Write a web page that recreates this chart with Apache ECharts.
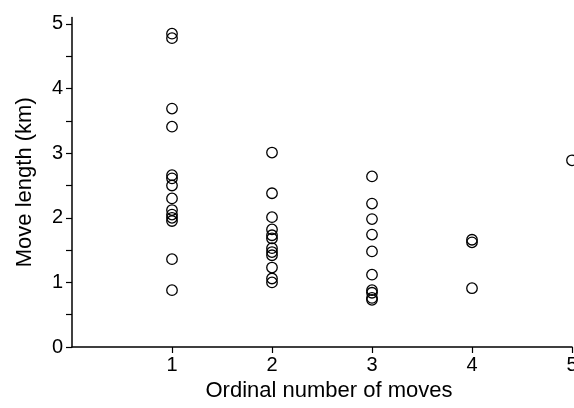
<!DOCTYPE html>
<html>
<head>
<meta charset="utf-8">
<script src="https://cdn.jsdelivr.net/npm/echarts@6/dist/echarts.min.js"></script>
<style>
html,body{margin:0;padding:0;background:#fff;}
#chart{width:574px;height:408px;}
</style>
</head>
<body>
<div id="chart"></div>
<script>
// Ordinal move number (x) and move lengths in km (y)
const moveNumbers = [1, 2, 3, 4, 5];
const lengthsMove1 = [4.85, 4.78, 3.69, 3.41, 2.66, 2.61, 2.50, 2.30, 2.12, 2.05, 2.00, 1.95, 1.36, 0.88];
const lengthsMove2 = [3.01, 2.38, 2.01, 1.82, 1.73, 1.68, 1.53, 1.47, 1.42, 1.23, 1.06, 1.00];
const lengthsMove3 = [2.64, 2.22, 1.98, 1.74, 1.48, 1.12, 0.88, 0.84, 0.76, 0.73];
const lengthsMove4 = [1.66, 1.62, 0.91];
const lengthsMove5 = [2.89];
const xTickLabels = [1, 2, 3, 4, 5];
const yTickLabels = [0, 1, 2, 3, 4, 5];
const yMinorTicks = [0, 0.5, 1, 1.5, 2, 2.5, 3, 3.5, 4, 4.5, 5];

const groups = [lengthsMove1, lengthsMove2, lengthsMove3, lengthsMove4, lengthsMove5];
const points = [];
groups.forEach((vals, i) => vals.forEach(v => points.push([moveNumbers[i], v])));

const font = '"Liberation Sans", Arial, Helvetica, sans-serif';
const chart = echarts.init(document.getElementById('chart'), null, {renderer: 'canvas'});
chart.setOption({
  animation: false,
  backgroundColor: '#fff',
  grid: {left: 72, right: 2, top: 17.5, bottom: 61, containLabel: false, outerBoundsMode: 'none'},
  xAxis: {
    type: 'value', min: 0, max: 5,
    name: 'Ordinal number of moves', nameLocation: 'middle', nameGap: 31,
    nameTextStyle: {color: '#000', fontSize: 22, fontFamily: font, padding: [0, 0, 0, 14]},
    axisLine: {onZero: false, lineStyle: {color: '#000', width: 1.5}},
    axisTick: {show: true, inside: false, length: 6, customValues: xTickLabels, lineStyle: {color: '#000', width: 1.2}},
    axisLabel: {color: '#000', fontSize: 20, fontFamily: font, margin: 8, customValues: xTickLabels, hideOverlap: false},
    splitLine: {show: false}
  },
  yAxis: {
    type: 'value', min: 0, max: 5.1,
    name: 'Move length (km)', nameLocation: 'middle', nameGap: 36,
    nameTextStyle: {color: '#000', fontSize: 22, fontFamily: font},
    axisLine: {show: true, onZero: false, lineStyle: {color: '#000', width: 1.5}},
    axisTick: {show: true, inside: false, length: 6, customValues: yMinorTicks, lineStyle: {color: '#000', width: 1.2}},
    axisLabel: {color: '#000', fontSize: 20, fontFamily: font, margin: 9, customValues: yTickLabels},
    splitLine: {show: false}
  },
  series: [{
    type: 'scatter',
    data: points,
    clip: false,
    symbol: 'circle',
    symbolSize: 10.5,
    itemStyle: {color: 'rgba(0,0,0,0)', borderColor: '#000', borderWidth: 1.3, opacity: 1}
  }]
});
</script>
</body>
</html>
